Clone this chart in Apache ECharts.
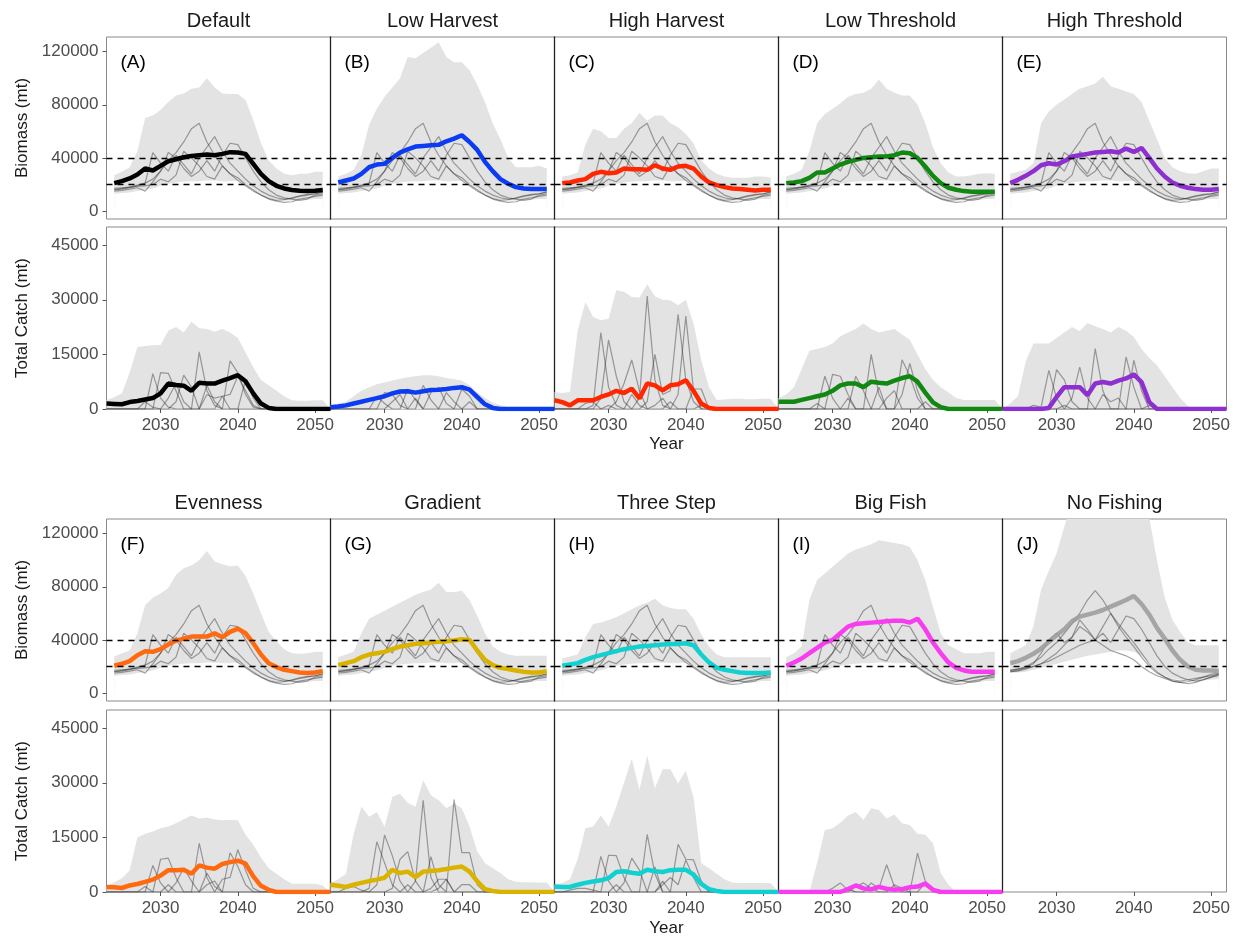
<!DOCTYPE html>
<html><head><meta charset="utf-8">
<script src="https://cdn.jsdelivr.net/npm/echarts@6/dist/echarts.min.js"></script>
<style>html,body{margin:0;padding:0;background:#fff}#c{width:1241px;height:941px}</style>
</head><body><div id="c"></div>
<script>
// ---------------- DATA ----------------
const scenarios = ['Default','Low Harvest','High Harvest','Low Threshold','High Threshold','Evenness','Gradient','Three Step','Big Fish','No Fishing'];
const panelTags = ['(A)','(B)','(C)','(D)','(E)','(F)','(G)','(H)','(I)','(J)'];
const lineColors = ['#000000','#0b3cf2','#ff2600','#118811','#8e2fd0','#ff6a10','#d9b300','#11d0d0','#f83cf0','#9a9a9a'];

const bioYears = [2024,2025,2026,2027,2028,2029,2030,2031,2032,2033,2034,2035,2036,2037,2038,2039,2040,2041,2042,2043,2044,2045,2046,2047,2048,2049,2050,2051];
const catchYears = [2023,2024,2025,2026,2027,2028,2029,2030,2031,2032,2033,2034,2035,2036,2037,2038,2039,2040,2041,2042,2043,2044,2045,2046,2047,2048,2049,2050,2051,2052];
const yearTicks = [2030,2040,2050];
const bioTicks = [0,40000,80000,120000];
const catchTicks = [0,15000,30000,45000];
const refLevels = [20000,40000];

// Biomass medians
const bioMed_A = [21000,22500,24500,27500,32000,30500,34000,37500,39000,40500,41500,42000,42500,42000,43000,44300,44000,43000,35500,28000,22500,19000,17000,15800,15200,15000,15300,15800];
const bioMed_B = [21500,23000,24500,28000,33000,35000,35500,40000,44000,46500,48500,49000,49500,49800,52500,54500,57000,52000,46000,37000,30000,24000,20500,18000,17000,16500,16500,16500];
const bioMed_C = [21000,21500,23000,24000,28000,29500,28500,29000,32000,31500,31500,31000,34500,32000,31000,33500,34000,32000,26000,21500,19500,18000,17000,16500,16000,15500,16000,16000];
const bioMed_D = [21000,21500,22500,25000,29000,29000,32000,35000,37000,38500,40000,40500,41000,41000,42000,44000,43500,40000,33500,26500,21000,17500,16000,15000,14500,14500,14500,14500];
const bioMed_E = [21000,23500,26500,30000,34500,36000,35000,37500,41000,42000,43000,44000,44500,45000,44000,47000,44500,47500,40000,32000,26000,21500,19000,17500,16500,16000,16000,16500];
const bioMed_F = [20500,22000,24000,28500,31500,31000,33000,36500,39500,41000,42500,42500,42500,45000,42000,46000,48500,45000,37500,29000,22500,19500,17500,16500,15500,15000,15500,16500];
const bioMed_G = [21000,22500,24000,27000,29000,30000,31000,33000,35000,36000,37000,37500,38000,38500,39000,39500,40500,40000,32000,25000,21000,19000,18000,17000,16000,15500,15500,16500];
const bioMed_H = [20500,21500,22500,25000,27000,28500,30000,31500,33000,34000,35000,35500,36000,36500,37000,37000,37500,36000,29000,23000,19000,17500,16500,15500,15000,15000,15000,15500];
const bioMed_I = [20500,23000,26000,30000,34000,38000,40000,45000,50000,52000,52500,53000,53500,54000,54500,54500,53000,56000,48000,38000,30000,23000,19000,17000,16000,16000,16000,16000];
const bioMed_J = [22500,24000,26500,29500,33500,38500,43500,48000,54000,57500,59000,60500,62500,65000,67500,70000,73000,67000,59000,49000,41000,32000,25000,20000,17500,17000,17000,16500];

// Biomass band upper edges
const bioHi_A = [27000,29500,33000,45000,70000,72000,76000,82000,87000,88500,92000,93000,100000,93000,88500,88000,88000,83500,68500,51000,38000,32000,28000,27000,28000,28000,29500,29500];
const bioHi_B = [26000,28000,31000,42000,65000,77000,86000,93000,100000,116000,115000,119000,123000,127000,116000,112000,112000,106000,95000,82000,66000,54000,40000,33000,33000,33000,34000,32000];
const bioHi_C = [26000,27000,29000,50000,62000,60000,55000,55000,62000,66000,74000,68000,72000,72000,66000,63000,58000,51000,38000,32000,28000,26000,25000,25000,25000,26000,26000,25000];
const bioHi_D = [26000,28000,31000,45000,66000,73000,77000,81000,86000,88000,89000,92000,99000,92000,89000,87000,87000,80000,66000,48000,36000,29000,26000,26000,27000,28000,28500,28000];
const bioHi_E = [28000,29500,31000,36000,66000,75000,80000,84000,88000,92000,94000,96000,101000,94000,92000,90000,88000,82000,68000,54000,40000,33000,30000,28500,28000,30000,32000,32000];
const bioHi_F = [27500,30000,32000,45000,66000,72000,75000,79000,89000,94000,96000,100000,107000,99000,97000,95500,96000,88000,75000,60000,46000,39000,33000,30000,29500,30000,31000,31000];
const bioHi_G = [27000,29000,31000,45000,56000,59000,62000,65000,68000,71000,74000,76000,78000,83000,76000,76000,77000,70000,58000,45000,35000,31000,29000,28000,28000,28000,28000,28000];
const bioHi_H = [26000,27500,29000,42000,52000,53000,55000,57000,60000,63000,66000,68000,71000,66000,64000,63000,63000,56000,44000,35000,29000,27000,27000,27000,27000,27000,27000,27000];
const bioHi_I = [27000,30000,35000,70000,85000,90000,95000,100000,105000,108000,110000,112000,115000,114000,113000,112000,110000,100000,85000,65000,45000,36000,33000,30000,30000,30000,31000,31000];
const bioHi_J = [30000,33000,36000,50000,78000,92000,105000,125000,145000,155000,160000,165000,170000,170000,165000,160000,155000,145000,132000,100000,72000,55000,46000,38000,36000,36000,36000,36000];

// Biomass band lower edges
const bioLo_shared = [13000,13500,14000,15000,16000,17000,19000,20500,21500,22000,22500,22500,23000,23000,22500,22500,23000,21000,17000,13000,10000,8500,8000,8000,8500,8500,9000,9000];
const bioLo_J = [15000,15500,16000,17500,19000,20500,22000,23500,25000,26500,28000,29000,30000,31000,32000,32000,31000,28000,23000,17000,13000,11000,10000,9500,9500,9500,10000,10500];

// Individual biomass trajectories (grey)
const bioTraj1 = [16000,16500,17500,19000,21000,24000,30000,38000,44000,52000,62000,66000,52000,42000,34000,28000,23000,19000,15000,12000,9500,8000,8500,10000,11500,12500,13000,14000];
const bioTraj2 = [16000,17000,18000,19500,21000,44000,36000,30000,42000,35000,28000,40000,48000,56000,45000,36000,30000,24000,19000,15000,12000,10000,9000,9500,11000,12000,13000,14500];
const bioTraj3 = [15000,15500,16500,17500,15000,22000,30000,44000,40000,32000,26000,30000,38000,30000,42000,51000,50000,40000,30000,22000,16000,12000,10000,9000,8000,9000,12000,13000];
const bioTraj4 = [17000,17500,18000,18500,19000,20000,24000,22000,27000,45000,40000,34000,26000,24000,34000,28000,25000,20000,16000,12000,9000,7500,6500,7000,9000,10000,11000,12000];
const bioTrajJ1 = [17000,18000,20000,23000,27000,33000,38000,45000,52000,60000,70000,77000,70000,60000,50000,42000,35000,27000,20000,15000,12000,10000,9000,10000,11000,12000,13000,14000];
const bioTrajJ2 = [16000,17000,19000,22000,30000,40000,45000,38000,42000,55000,48000,40000,50000,60000,52000,45000,38000,30000,22000,16000,12000,9000,8000,8500,10000,12000,14000,15000];
const bioTrajJ3 = [16000,16500,18000,20000,22000,26000,30000,36000,42000,50000,46000,40000,45000,38000,48000,58000,56000,48000,38000,28000,20000,15000,12000,10000,9000,10000,12000,13000];
const bioTrajJ4 = [17000,18000,19000,20000,22000,24000,27000,30000,33000,36000,38000,40000,36000,32000,30000,28000,25000,20000,16000,13000,11000,9000,8000,7000,8000,10000,12000,14000];

// Catch medians
const catchMed_A = [1500,1400,1300,1900,2200,2600,3000,4300,7000,6600,6400,5000,7200,7000,7000,7800,8500,9300,7600,4300,1500,300,0,0,0,0,0,0,0,0];
const catchMed_B = [500,700,1000,1500,2000,2500,3000,3500,4300,4800,4900,4500,4900,5200,5300,5500,5800,6000,5300,3300,1300,300,0,0,0,0,0,0,0,0];
const catchMed_C = [2400,1900,1000,2400,2400,2400,3300,4000,5000,4400,5600,2900,7000,6500,5100,6500,6800,7900,5000,1500,300,0,0,0,0,0,0,0,0,0];
const catchMed_D = [2000,2000,2000,2500,3000,3500,4000,5000,6500,7000,7000,6000,7500,7200,7000,7800,8500,9000,7500,4500,1800,500,0,0,0,0,0,0,0,0];
const catchMed_E = [0,0,0,0,0,0,300,3300,6000,6000,6000,3800,7000,7400,7000,7800,8400,9500,7400,1900,0,0,0,0,0,0,0,0,0,0];
const catchMed_F = [1400,1300,1100,1800,2200,2800,3400,4500,6000,6000,6100,5000,7300,6700,6400,7700,8200,8600,7800,4300,1700,600,0,0,0,0,0,0,0,0];
const catchMed_G = [2000,1700,1400,2000,2500,3000,3400,3900,6100,5200,5600,4100,5600,5800,6000,6300,6700,7000,5600,2900,800,300,0,0,0,0,0,0,0,0];
const catchMed_H = [1500,1400,1400,2000,2500,2900,3200,3800,5500,5700,5300,5000,6100,5700,5500,6000,6100,6100,4800,2200,800,300,0,0,0,0,0,0,0,0];
const catchMed_I = [0,0,0,0,0,0,0,0,0,800,1800,1000,700,1400,900,600,800,1300,1500,2300,600,0,0,0,0,0,0,0,0,0];

// Catch band upper edges
const catchHi_A = [2500,3200,4300,10000,17000,17300,17500,17600,21500,22500,21000,24000,22200,22000,21200,22000,21000,19500,15500,11500,8000,6500,5000,3500,2400,2300,2300,2400,2400,0];
const catchHi_B = [1000,1500,2000,3500,5000,6000,6800,7300,7800,8300,8700,9000,9300,9300,9000,8500,8200,7800,6500,4500,3000,1800,1000,500,300,200,200,200,200,0];
const catchHi_C = [4700,4400,4700,21500,29400,25300,24400,24800,32600,32200,30800,30600,34300,31000,30000,29900,28500,30000,23500,13400,6000,2500,2600,2800,2800,2700,2700,2800,2800,0];
const catchHi_D = [3000,4000,6000,11000,16000,16500,17000,18000,20000,21000,22000,23500,22000,21000,21500,22000,20500,19000,15000,11000,8000,6000,4500,3000,2500,2500,2500,2500,2500,0];
const catchHi_E = [0,1500,3500,13000,18000,18000,18000,19500,21000,22500,21400,23600,22700,22000,21000,22500,21500,19800,16500,14000,12000,9000,6000,3000,800,0,0,0,0,0];
const catchHi_F = [1500,2700,3800,6000,15000,16000,16600,17500,18000,18900,20000,21000,20200,20500,19900,19700,19800,19700,15700,13000,9500,6500,5000,3500,2300,2300,2300,2300,1800,0];
const catchHi_G = [2500,3500,5000,16000,23400,20700,22000,17900,26100,27000,24500,23400,30700,26600,25200,23000,24300,23000,18000,11100,8000,6500,5200,3500,2800,2700,2700,2600,2600,0];
const catchHi_H = [2000,2500,3500,9000,17500,18000,21000,17900,23400,30000,36600,28000,37500,28500,33700,33700,29800,33300,26000,8000,6500,5000,3500,2600,2500,2500,2500,2500,2400,0];
const catchHi_I = [0,0,0,0,0,8000,17000,17500,19000,21000,22000,19800,23000,22500,20200,21300,18900,18400,16000,15700,13400,5200,2000,0,0,0,0,0,0,0];

// Individual catch trajectories (grey)
const catchTraj_A1 = [0,0,0,0,0,0,9700,3000,500,0,0,0,15700,5000,1000,0,0,0,0,0,0,0,0,0,0,0,0,0,0,0];
const catchTraj_A2 = [0,0,0,0,0,0,0,10000,9800,5000,0,0,0,6500,2000,0,13200,10000,4000,500,0,0,0,0,0,0,0,0,0,0];
const catchTraj_A3 = [0,0,0,0,0,2000,500,0,0,2000,9300,6000,0,0,0,3500,4000,9000,5000,1000,0,0,0,0,0,0,0,0,0,0];
const catchTraj_A4 = [0,0,0,0,0,0,0,0,3000,7000,2000,0,0,4000,3000,3500,0,0,8000,3000,0,0,0,0,0,0,0,0,0,0];
const catchTraj_B1 = [0,0,0,0,0,0,3500,1500,0,0,5500,2500,0,0,0,4500,2000,0,0,0,0,0,0,0,0,0,0,0,0,0];
const catchTraj_B2 = [0,0,0,0,0,0,0,4500,4000,1000,0,0,6500,2500,0,0,0,5500,3500,0,0,0,0,0,0,0,0,0,0,0];
const catchTraj_B3 = [0,0,0,0,0,0,0,0,2000,4000,0,3000,0,4500,6000,1500,0,0,2000,0,0,0,0,0,0,0,0,0,0,0];
const catchTraj_C1 = [0,0,0,0,0,1000,21000,6000,1000,0,0,3000,31000,8000,1000,0,4000,25500,5000,0,0,0,0,0,0,0,0,0,0,0];
const catchTraj_C2 = [0,0,0,0,0,0,3000,19000,9000,2000,0,0,2000,15000,4000,5000,26000,8000,2000,0,0,0,0,0,0,0,0,0,0,0];
const catchTraj_C3 = [0,0,0,0,0,0,0,0,2000,7000,13500,5000,0,1000,3000,0,0,0,5500,5500,0,0,0,0,0,0,0,0,0,0];
const catchTraj_C4 = [0,0,0,0,1500,2000,0,1000,0,0,4000,1000,0,0,0,2000,0,0,0,1000,0,0,0,0,0,0,0,0,0,0];
const catchTraj_D1 = [0,0,0,0,0,0,9000,3000,0,0,0,0,15000,4000,0,0,0,0,0,0,0,0,0,0,0,0,0,0,0,0];
const catchTraj_D2 = [0,0,0,0,0,0,0,9500,9000,4000,0,0,0,6000,0,0,13500,9000,3000,0,0,0,0,0,0,0,0,0,0,0];
const catchTraj_D3 = [0,0,0,0,0,0,0,0,0,0,9000,5000,0,0,0,0,4000,12500,5000,0,0,0,0,0,0,0,0,0,0,0];
const catchTraj_D4 = [0,0,0,0,0,1500,0,0,0,3000,0,0,0,0,3000,5000,0,0,0,2000,0,0,0,0,0,0,0,0,0,0];
const catchTraj_E1 = [0,0,0,0,1000,500,10600,3000,0,0,0,0,16600,5000,0,0,0,0,0,0,0,0,0,0,0,0,0,0,0,0];
const catchTraj_E2 = [0,0,0,0,0,0,0,10800,8000,2000,0,0,0,0,0,0,14300,6000,0,0,0,0,0,0,0,0,0,0,0,0];
const catchTraj_E3 = [0,0,0,0,0,0,0,0,0,3000,11500,3000,0,0,0,0,0,13400,5000,0,0,0,0,0,0,0,0,0,0,0];
const catchTraj_E4 = [0,0,0,0,0,0,0,0,1000,0,0,0,0,4000,2000,3000,0,0,0,1000,0,0,0,0,0,0,0,0,0,0];
const catchTraj_F1 = [0,0,0,0,0,0,7300,2500,0,0,0,0,13400,4000,0,0,0,0,0,0,0,0,0,0,0,0,0,0,0,0];
const catchTraj_F2 = [0,0,0,0,0,0,0,9000,9300,4000,0,0,0,5200,1500,0,10800,7000,2000,0,0,0,0,0,0,0,0,0,0,0];
const catchTraj_F3 = [0,0,0,0,0,0,0,0,0,2500,6600,3000,0,0,0,3500,4000,11600,6000,1000,0,0,0,0,0,0,0,0,0,0];
const catchTraj_F4 = [0,0,0,0,0,1500,0,0,2000,0,0,0,0,2000,3000,0,0,0,0,0,0,0,0,0,0,0,0,0,0,0];
const catchTraj_G1 = [0,0,0,0,0,1000,13800,8000,2000,0,0,3000,25200,4000,0,0,0,0,0,0,0,0,0,0,0,0,0,0,0,0];
const catchTraj_G2 = [0,0,0,0,0,0,2000,15700,10000,3000,0,0,0,9700,2000,0,25400,10800,10800,2000,0,0,0,0,0,0,0,0,0,0];
const catchTraj_G3 = [0,0,0,0,0,0,0,0,1000,9000,11100,3000,0,0,1000,3500,0,2000,2000,0,0,0,0,0,0,0,0,0,0,0];
const catchTraj_G4 = [0,0,1000,1500,500,0,0,0,0,0,2000,0,0,1000,3500,3500,0,0,0,0,0,0,0,0,0,0,0,0,0,0];
const catchTraj_H1 = [0,0,0,0,0,0,9800,3000,0,0,0,0,15800,5000,0,0,0,0,0,0,0,0,0,0,0,0,0,0,0,0];
const catchTraj_H2 = [0,0,0,0,0,0,0,10100,10000,4000,0,0,0,6900,0,0,13100,9000,8800,3000,0,0,0,0,0,0,0,0,0,0];
const catchTraj_H3 = [0,0,0,0,0,0,0,0,0,2500,9300,6000,0,0,2000,4000,2000,8800,4000,0,0,0,0,0,0,0,0,0,0,0];
const catchTraj_H4 = [0,0,500,1000,1000,500,0,0,2000,0,0,0,0,0,3000,0,0,0,0,0,0,0,0,0,0,0,0,0,0,0];
const catchTraj_I1 = [0,0,0,0,0,0,0,1000,2500,500,0,0,2500,1000,7500,1500,0,0,0,0,0,0,0,0,0,0,0,0,0,0];
const catchTraj_I2 = [0,0,0,0,0,0,0,0,0,0,1500,2500,1000,0,0,0,0,0,10700,3000,0,0,0,0,0,0,0,0,0,0];
const catchTraj_I3 = [0,0,0,0,0,0,0,0,0,1000,0,0,0,0,0,2000,1000,0,0,2500,500,0,0,0,0,0,0,0,0,0];

// ---------------- ASSEMBLY ----------------
const bioMed = [bioMed_A,bioMed_B,bioMed_C,bioMed_D,bioMed_E,bioMed_F,bioMed_G,bioMed_H,bioMed_I,bioMed_J];
const bioHi = [bioHi_A,bioHi_B,bioHi_C,bioHi_D,bioHi_E,bioHi_F,bioHi_G,bioHi_H,bioHi_I,bioHi_J];
const bioLo = [bioLo_shared,bioLo_shared,bioLo_shared,bioLo_shared,bioLo_shared,bioLo_shared,bioLo_shared,bioLo_shared,bioLo_shared,bioLo_J];
const bioTrajSet = [bioTraj1,bioTraj2,bioTraj3,bioTraj4];
const bioTrajSetJ = [bioTrajJ1,bioTrajJ2,bioTrajJ3,bioTrajJ4];
const bioTraj = [0,1,2,3,4,5,6,7,8].map(()=>bioTrajSet).concat([bioTrajSetJ]);
const catchMed = [catchMed_A,catchMed_B,catchMed_C,catchMed_D,catchMed_E,catchMed_F,catchMed_G,catchMed_H,catchMed_I,null];
const catchHi = [catchHi_A,catchHi_B,catchHi_C,catchHi_D,catchHi_E,catchHi_F,catchHi_G,catchHi_H,catchHi_I,null];
const catchTraj = [
  [catchTraj_A1,catchTraj_A2,catchTraj_A3,catchTraj_A4],
  [catchTraj_B1,catchTraj_B2,catchTraj_B3],
  [catchTraj_C1,catchTraj_C2,catchTraj_C3,catchTraj_C4],
  [catchTraj_D1,catchTraj_D2,catchTraj_D3,catchTraj_D4],
  [catchTraj_E1,catchTraj_E2,catchTraj_E3,catchTraj_E4],
  [catchTraj_F1,catchTraj_F2,catchTraj_F3,catchTraj_F4],
  [catchTraj_G1,catchTraj_G2,catchTraj_G3,catchTraj_G4],
  [catchTraj_H1,catchTraj_H2,catchTraj_H3,catchTraj_H4],
  [catchTraj_I1,catchTraj_I2,catchTraj_I3],
  []
];

const FONT = "'Liberation Sans', Arial, Helvetica, sans-serif";
const BAND = '#e3e3e3';
const GREY = 'rgba(40,40,40,0.42)';
const colLeft = [106.5,330.5,554.5,778.5,1002.5];
const colW = 224;
const bioTop = [37,519];
const catchTop = [227,710];
const panelH = 182;
const pairs = (xs, ys) => xs.map((x,i)=>[x, ys[i]]);
const plain = v => String(v);

const grids = [], xAxes = [], yAxes = [], series = [], graphics = [];

function addAxes(g, col, blk, isCatch){
  grids.push({left: colLeft[col], top: isCatch ? catchTop[blk] : bioTop[blk], width: colW, height: panelH,
    show: true, borderColor: '#8a8a8a', borderWidth: 1, backgroundColor: 'rgba(0,0,0,0)'});
  xAxes.push({gridIndex: g, type: 'value', min: 2023, max: 2052,
    axisLine: {show: false},
    axisTick: {show: isCatch, length: 4, customValues: yearTicks, lineStyle: {color: '#555', width: 1}},
    axisLabel: {show: isCatch, customValues: yearTicks, formatter: plain, color: '#4d4d4d', fontSize: 17, fontFamily: FONT, margin: 8},
    splitLine: {show: false}});
  const ticks = isCatch ? catchTicks : bioTicks;
  yAxes.push({gridIndex: g, type: 'value', min: isCatch ? 0 : -6000, max: isCatch ? 50000 : 131000,
    axisLine: {show: col > 0, lineStyle: {color: '#222', width: 1.3}},
    axisTick: {show: col === 0, length: 4, customValues: ticks, lineStyle: {color: '#555', width: 1}},
    axisLabel: {show: col === 0, customValues: ticks, formatter: plain, color: '#4d4d4d', fontSize: 17, fontFamily: FONT, margin: 8},
    splitLine: {show: false}});
}

for (let s = 0; s < 10; s++) {
  const blk = s < 5 ? 0 : 1, col = s % 5;
  const gb = 2*s, gc = 2*s+1;
  addAxes(gb, col, blk, false);
  addAxes(gc, col, blk, true);
  const base = {type: 'line', symbol: 'none', silent: true, animation: false};

  // biomass band: upper edge filled grey, lower edge filled white
  series.push(Object.assign({}, base, {xAxisIndex: gb, yAxisIndex: gb, z: 1,
    data: pairs(bioYears, bioHi[s]), lineStyle: {width: 0, opacity: 0},
    areaStyle: {color: BAND, opacity: 1}}));
  series.push(Object.assign({}, base, {xAxisIndex: gb, yAxisIndex: gb, z: 1,
    data: pairs(bioYears, bioLo[s]), lineStyle: {width: 0, opacity: 0},
    areaStyle: {color: '#ffffff', opacity: 1}}));
  // reference dashed lines
  series.push(Object.assign({}, base, {xAxisIndex: gb, yAxisIndex: gb, z: 2, data: [],
    markLine: {symbol: ['none','none'], silent: true, animation: false, label: {show: false},
      lineStyle: {color: '#000', type: [6,5], width: 1.3},
      data: refLevels.map(v=>({yAxis: v}))}}));
  // grey trajectories
  bioTraj[s].forEach(t => series.push(Object.assign({}, base, {xAxisIndex: gb, yAxisIndex: gb, z: 3,
    data: pairs(bioYears, t), lineStyle: {color: GREY, width: 1.2}})));
  // median
  series.push(Object.assign({}, base, {xAxisIndex: gb, yAxisIndex: gb, z: 4,
    data: pairs(bioYears, bioMed[s]), lineStyle: {color: lineColors[s], width: 4.5, opacity: s === 9 ? 0.85 : 1}}));

  // catch
  if (catchHi[s]) {
    series.push(Object.assign({}, base, {xAxisIndex: gc, yAxisIndex: gc, z: 1,
      data: pairs(catchYears, catchHi[s]), lineStyle: {width: 0, opacity: 0},
      areaStyle: {color: BAND, opacity: 1}}));
    catchTraj[s].forEach(t => series.push(Object.assign({}, base, {xAxisIndex: gc, yAxisIndex: gc, z: 3,
      data: pairs(catchYears, t), lineStyle: {color: GREY, width: 1.2}})));
    series.push(Object.assign({}, base, {xAxisIndex: gc, yAxisIndex: gc, z: 4,
      data: pairs(catchYears, catchMed[s]), lineStyle: {color: lineColors[s], width: 4.5}}));
  }

  // titles and tags
  graphics.push({type: 'text', x: colLeft[col] + colW/2, y: blk === 0 ? 21 : 503, silent: true,
    style: {text: scenarios[s], fill: '#1a1a1a', font: '20px ' + FONT, textAlign: 'center', textVerticalAlign: 'middle'}});
  graphics.push({type: 'text', x: colLeft[col] + 14, y: bioTop[blk] + 26, silent: true,
    style: {text: panelTags[s], fill: '#000', font: '19px ' + FONT, textAlign: 'left', textVerticalAlign: 'middle'}});
}

// axis names
[0,1].forEach(blk => {
  graphics.push({type: 'text', x: 22, y: bioTop[blk] + panelH/2, rotation: Math.PI/2, silent: true,
    style: {text: 'Biomass (mt)', fill: '#1a1a1a', font: '17px ' + FONT, textAlign: 'center', textVerticalAlign: 'middle'}});
  graphics.push({type: 'text', x: 22, y: catchTop[blk] + panelH/2, rotation: Math.PI/2, silent: true,
    style: {text: 'Total Catch (mt)', fill: '#1a1a1a', font: '17px ' + FONT, textAlign: 'center', textVerticalAlign: 'middle'}});
  graphics.push({type: 'text', x: (colLeft[0] + colLeft[4] + colW)/2, y: blk === 0 ? 444 : 928, silent: true,
    style: {text: 'Year', fill: '#1a1a1a', font: '17px ' + FONT, textAlign: 'center', textVerticalAlign: 'middle'}});
});

const chart = echarts.init(document.getElementById('c'), null, {renderer: 'canvas'});
chart.setOption({
  animation: false,
  backgroundColor: '#ffffff',
  grid: grids, xAxis: xAxes, yAxis: yAxes, series: series, graphic: graphics
});
</script>
</body></html>
